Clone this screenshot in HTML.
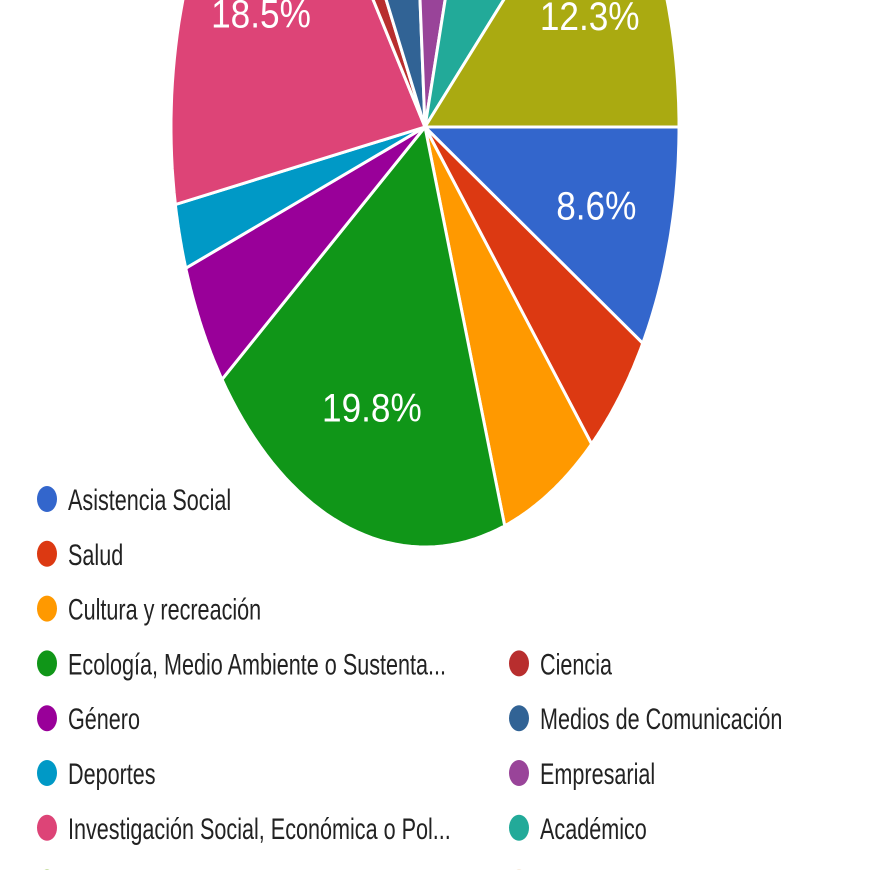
<!DOCTYPE html>
<html><head><meta charset="utf-8"><style>html,body{margin:0;padding:0;background:#fff;width:870px;height:870px;overflow:hidden}</style></head>
<body>
<svg id="chart" width="870" height="870" viewBox="0 0 870 870" xmlns="http://www.w3.org/2000/svg" font-family="'Liberation Sans', sans-serif">
<g id="slices"></g><g id="labels"></g><g id="legend"></g>
</svg>
<script>
const categories = ["Asistencia Social","Salud","Cultura y recreación","Ecología, Medio Ambiente o Sustenta...","Género","Deportes","Investigación Social, Económica o Pol...","Ciencia","Medios de Comunicación","Empresarial","Académico","Infancia"];
const values = [8.6,5.0,6.3,19.8,4.8,2.5,18.5,2.0,6.4,5.1,8.6,12.3];
const colors = ["#3366cc","#dc3912","#ff9900","#109618","#990099","#0099c6","#dd4477","#b82e2e","#316395","#994499","#22aa99","#aaaa11"];
const labelShown = [true,false,false,true,false,false,true,false,false,false,false,true];
const legendItems = ["Asistencia Social","Salud","Cultura y recreación","Ecología, Medio Ambiente o Sustenta...","Género","Deportes","Investigación Social, Económica o Pol...","Infancia","Ciencia","Medios de Comunicación","Empresarial","Académico",""];
const legendColors = ["#3366cc","#dc3912","#ff9900","#109618","#990099","#0099c6","#dd4477","#66aa00","#b82e2e","#316395","#994499","#22aa99","#e8c9a0"];
const NS="http://www.w3.org/2000/svg";
const cx=425, cy=127, rx=254, ry=420, startDeg=90;
function pt(deg,f){const a=deg*Math.PI/180;return [cx+rx*f*Math.sin(a), cy-ry*f*Math.cos(a)];}
const total=values.reduce((a,b)=>a+b,0);
let ang=startDeg;
const gS=document.getElementById('slices'), gL=document.getElementById('labels'), gLeg=document.getElementById('legend');
values.forEach((v,i)=>{
  const sweep=v/total*360, a0=ang, a1=ang+sweep; ang=a1;
  let d=`M${cx},${cy}`;
  for(let k=0;k<=40;k++){const p=pt(a0+(a1-a0)*k/40,1);d+=`L${p[0].toFixed(1)},${p[1].toFixed(1)}`;}
  d+='Z';
  const p=document.createElementNS(NS,'path');
  p.setAttribute('d',d);p.setAttribute('fill',colors[i]);p.setAttribute('stroke','#fff');p.setAttribute('stroke-width','3');
  
  
  gS.appendChild(p);
  if(labelShown[i]){
    const m=(a0+a1)/2; const q=pt(m,0.7);
    const t=document.createElementNS(NS,'text');
    t.setAttribute('transform',`translate(${q[0].toFixed(1)},${(q[1]+14).toFixed(1)}) scale(0.88,1)`);
    t.setAttribute('text-anchor','middle');t.setAttribute('font-size','40');t.setAttribute('fill','#fff');
    t.textContent=v.toFixed(1)+'%';
    
    
    gL.appendChild(t);
  }
});
legendItems.forEach((name,i)=>{
  const col=i<8?0:1, row=i<8?i:i-5;
  const x=col?519:47, y=499+row*54.8;
  const g=document.createElementNS(NS,'g');
  
  
  const c=document.createElementNS(NS,'ellipse');
  c.setAttribute('cx',x);c.setAttribute('cy',y);c.setAttribute('rx',10);c.setAttribute('ry',13);c.setAttribute('fill',legendColors[i]);
  g.appendChild(c);
  const t=document.createElementNS(NS,'text');
  t.setAttribute('transform',`translate(${x+21},${y+11}) scale(0.72,1)`);
  t.setAttribute('font-size','30');t.setAttribute('fill','#222');
  t.textContent=name;
  g.appendChild(t);
  gLeg.appendChild(g);
});
</script>
</body></html>
